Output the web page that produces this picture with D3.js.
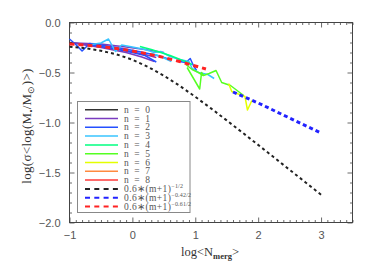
<!DOCTYPE html>
<html><head><meta charset="utf-8">
<script src="https://cdn.jsdelivr.net/npm/d3@7"></script>
<style>body{margin:0;background:#fff;}svg{display:block;}</style>
</head><body>
<svg id="c" width="374" height="267"></svg>
<script>
// ---- data ----
const xMajorTicks = [-1, 0, 1, 2, 3];
const yMajorTicks = [0, -0.5, -1.0, -1.5, -2.0];
const xTickLabels = ["\u22121", "0", "1", "2", "3"];
const yTickLabels = ["0.0", "\u22120.5", "\u22121.0", "\u22121.5", "\u22122.0"];

const n0 = [[[-1,-0.20],[-0.8,-0.215],[-0.6,-0.23]]];
const n1 = [
  [[-0.92,-0.205],[-0.5,-0.215],[-0.1,-0.245],[0.2,-0.27],[0.5,-0.30]],
  [[-0.9,-0.21],[-0.5,-0.24],[-0.1,-0.28],[0.2,-0.32],[0.38,-0.35]],
  [[-0.85,-0.215],[-0.5,-0.25],[-0.1,-0.30],[0.15,-0.345],[0.35,-0.39]]
];
const n2 = [
  [[-1,-0.165],[-0.9,-0.22],[-0.8,-0.285],[-0.68,-0.21],[-0.5,-0.225],[-0.2,-0.255],[0.1,-0.29],[0.4,-0.33],[0.6,-0.37]],
  [[-0.7,-0.22],[-0.3,-0.26],[0,-0.30],[0.2,-0.33],[0.38,-0.395]],
  [[0.75,-0.39],[0.85,-0.40],[0.92,-0.36],[0.97,-0.43],[1.02,-0.48]]
];
const n3 = [
  [[-0.65,-0.22],[-0.5,-0.205],[-0.38,-0.165],[-0.27,-0.29],[-0.17,-0.225],[0,-0.245],[0.2,-0.27],[0.35,-0.30],[0.45,-0.29],[0.6,-0.34],[0.75,-0.37],[0.9,-0.39],[0.95,-0.46],[1.05,-0.50],[1.2,-0.52],[1.3,-0.56]],
  [[0.3,-0.31],[0.45,-0.34],[0.62,-0.39]]
];
const n4 = [
  [[0.12,-0.24],[0.3,-0.27],[0.45,-0.30],[0.6,-0.33],[0.8,-0.38],[0.95,-0.42]]
];
const n5 = [
  [[0.85,-0.42],[0.95,-0.47],[1.05,-0.50],[1.13,-0.53]],
  [[0.87,-0.45],[1.07,-0.665],[1.1,-0.50],[1.13,-0.53],[1.22,-0.51],[1.33,-0.48],[1.42,-0.60],[1.56,-0.63],[1.77,-0.73]]
];
const n6 = [
  [[1.53,-0.61],[1.58,-0.69],[1.79,-0.74],[1.83,-0.875],[1.9,-0.78]]
];
const n7 = [];
const n8 = [];

const fitBlack = [[-1,-0.243],[-0.75,-0.257],[-0.5,-0.282],[-0.25,-0.319],[0,-0.372],[0.25,-0.444],[0.5,-0.532],[0.75,-0.632],[1,-0.743],[1.25,-0.859],[1.5,-0.979],[1.75,-1.101],[2,-1.224],[2.25,-1.348],[2.5,-1.473],[2.75,-1.597],[3,-1.722]];
const fitBlue = [[1.6,-0.695],[1.8,-0.75],[2,-0.805],[2.5,-0.955],[3,-1.105]];
const fitRed = [[-1,-0.215],[-0.75,-0.225],[-0.5,-0.24],[-0.25,-0.26],[0,-0.285],[0.25,-0.315],[0.5,-0.35],[0.75,-0.39],[1,-0.435],[1.17,-0.465]];

const seriesNames = ["n = 0","n = 1","n = 2","n = 3","n = 4","n = 5","n = 6","n = 7","n = 8"];
const seriesData = [n0,n1,n2,n3,n4,n5,n6,n7,n8];
const seriesColors = ["#333333","#7a3cc0","#2450ff","#38c4ff","#00ff80","#55ff22","#e4ff00","#ff8a40","#ff3a3a"];
const fitSup = ["\u22121/2","\u22120.42/2","\u22120.61/2"];
const fitData = [fitBlack, fitBlue, fitRed];
const fitColors = ["#222222","#2222ff","#ff2222"];

// ---- layout ----
const svg = d3.select("#c");
const L = 69.5, R = 352.5, T = 22.5, B = 222.5;
const x = d3.scaleLinear().domain([-1, 3.5]).range([L, R]);
const y = d3.scaleLinear().domain([-2, 0]).range([B, T]);
const axisColor = "#444";
const textColor = "#555";

const xMinor = d3.range(-10, 36).map(d => d/10).filter(d => !xMajorTicks.some(m => Math.abs(m-d) < 1e-9));
const yMinor = d3.range(-20, 1).map(d => d/10).filter(d => !yMajorTicks.some(m => Math.abs(m-d) < 1e-9));

function styleAxis(g){ g.select(".domain").remove(); g.selectAll("line").attr("stroke", axisColor).attr("stroke-width", 0.8); }

// bottom
svg.append("g").attr("transform",`translate(0,${B})`)
  .call(d3.axisBottom(x).tickValues(xMinor).tickSize(-2.5).tickFormat("")).call(styleAxis);
svg.append("g").attr("transform",`translate(0,${B})`)
  .call(d3.axisBottom(x).tickValues(xMajorTicks).tickSize(-5).tickPadding(9)
    .tickFormat((d,i)=>xTickLabels[i])).call(styleAxis)
  .selectAll("text").attr("fill",textColor).attr("font-family","Liberation Sans, Arial, sans-serif").attr("font-size",11);
// top
svg.append("g").attr("transform",`translate(0,${T})`)
  .call(d3.axisTop(x).tickValues(xMinor).tickSize(-2.5).tickFormat("")).call(styleAxis);
svg.append("g").attr("transform",`translate(0,${T})`)
  .call(d3.axisTop(x).tickValues(xMajorTicks).tickSize(-5).tickFormat("")).call(styleAxis);
// left
svg.append("g").attr("transform",`translate(${L},0)`)
  .call(d3.axisLeft(y).tickValues(yMinor).tickSize(-2.5).tickFormat("")).call(styleAxis);
svg.append("g").attr("transform",`translate(${L},0)`)
  .call(d3.axisLeft(y).tickValues(yMajorTicks).tickSize(-5).tickPadding(9)
    .tickFormat((d,i)=>yTickLabels[i])).call(styleAxis)
  .selectAll("text").attr("fill",textColor).attr("font-family","Liberation Sans, Arial, sans-serif").attr("font-size",11);
// right
svg.append("g").attr("transform",`translate(${R},0)`)
  .call(d3.axisRight(y).tickValues(yMinor).tickSize(-2.5).tickFormat("")).call(styleAxis);
svg.append("g").attr("transform",`translate(${R},0)`)
  .call(d3.axisRight(y).tickValues(yMajorTicks).tickSize(-5).tickFormat("")).call(styleAxis);

// frame
svg.append("rect").attr("x",L).attr("y",T).attr("width",R-L).attr("height",B-T)
  .attr("fill","none").attr("stroke",axisColor).attr("stroke-width",1);

// ---- lines ----
const line = d3.line().x(d=>x(d[0])).y(d=>y(d[1]));
const plot = svg.append("g");
seriesData.forEach((segs,i)=>{
  segs.forEach(seg=>{
    plot.append("path").attr("d",line(seg)).attr("fill","none")
      .attr("stroke",seriesColors[i]).attr("stroke-width",1.5).attr("stroke-linejoin","round");
  });
});
plot.append("path").attr("d",line(fitBlack)).attr("fill","none").attr("stroke",fitColors[0])
  .attr("stroke-width",2).attr("stroke-dasharray","3,3");
plot.append("path").attr("d",line(fitBlue)).attr("fill","none").attr("stroke",fitColors[1])
  .attr("stroke-width",3).attr("stroke-dasharray","4,3");
plot.append("path").attr("d",line(fitRed)).attr("fill","none").attr("stroke",fitColors[2])
  .attr("stroke-width",3).attr("stroke-dasharray","5,4");

// ---- legend ----
const lg = svg.append("g");
lg.append("rect").attr("x",77.5).attr("y",101.5).attr("width",112.5).attr("height",111)
  .attr("fill","#fff").attr("stroke","#888").attr("stroke-width",1);
const rowY = i => 109.7 + 8.8*i;
const serif = "Liberation Serif, Times New Roman, serif";
seriesNames.forEach((nm,i)=>{
  lg.append("line").attr("x1",85).attr("x2",118).attr("y1",rowY(i)).attr("y2",rowY(i))
    .attr("stroke",seriesColors[i]).attr("stroke-width",1.5);
  lg.append("text").attr("x",124).attr("y",rowY(i)+3).attr("font-family",serif)
    .attr("font-size",9.5).attr("letter-spacing",0.4).attr("fill",textColor)
    .text(nm.replace(/ /g,"\u2002"));
});
fitSup.forEach((s,k)=>{
  const yy = rowY(9+k);
  lg.append("line").attr("x1",85).attr("x2",118).attr("y1",yy).attr("y2",yy)
    .attr("stroke",fitColors[k]).attr("stroke-width",2).attr("stroke-dasharray","5,4.3");
  const t = lg.append("text").attr("x",124).attr("y",yy+3).attr("font-family",serif)
    .attr("font-size",9.5).attr("letter-spacing",0.4).attr("fill",textColor);
  t.append("tspan").text("0.6\u2217(m+1)");
  t.append("tspan").attr("dy",-3.5).attr("font-size",6).attr("letter-spacing",0.2).text(s);
});

// ---- axis titles ----
const xt = svg.append("text").attr("x",210).attr("y",255.5).attr("text-anchor","middle")
  .attr("font-family",serif).attr("font-size",12.5).attr("fill","#333");
xt.append("tspan").text("log<N");
xt.append("tspan").attr("dy",3).attr("font-size",8.5).attr("font-weight","bold").text("merg");
xt.append("tspan").attr("dy",-3).text(">");

const yt = svg.append("text").attr("transform","translate(31,126) rotate(-90)").attr("text-anchor","middle")
  .attr("font-family",serif).attr("font-size",13).attr("letter-spacing",0.3).attr("fill","#333");
yt.append("tspan").text("log(\u03c3<log(M");
yt.append("tspan").attr("dy",3).attr("font-size",8.5).text("\u2022");
yt.append("tspan").attr("dy",-3).text("/M");
yt.append("tspan").attr("dy",3).attr("font-size",8.5).text("\u2299");
yt.append("tspan").attr("dy",-3).text(")>)");
</script>
</body></html>
